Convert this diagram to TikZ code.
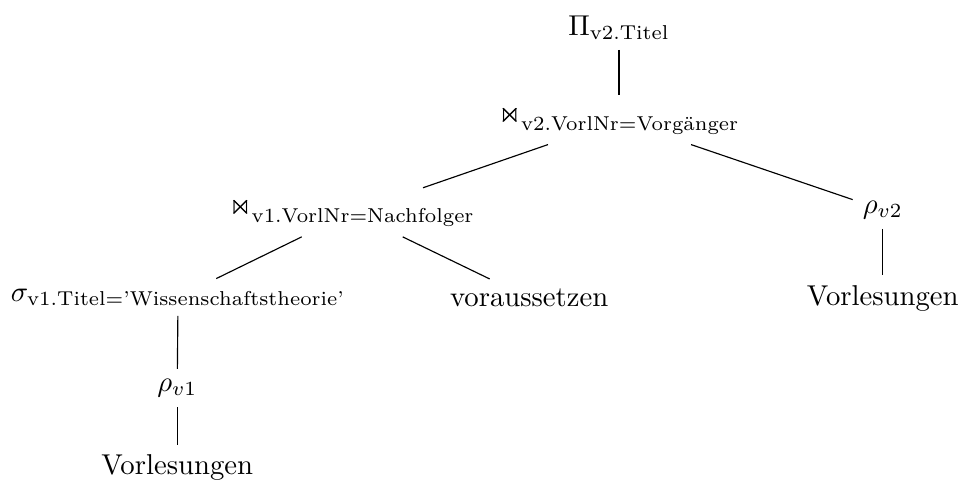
\documentclass[tikz,border=0pt]{standalone}
\usepackage{amsmath}
\usepackage{amssymb}
\usepackage{tikz}

% kleines Join-Symbol
\newcommand{\smalljoin}{\mathrel{\raisebox{0.3ex}{$\Join$}}}

\begin{document}
\begin{tikzpicture}
    \useasboundingbox (0,0) rectangle (11.78,-6.01);

    % Projektion und Joins
    \node (pi) at (7.58,-0.34) {$\Pi_{\text{v2.Titel}}$};
    \node (j1) at (7.58,-1.47) {$\smalljoin_{\text{v2.VorlNr=Vorg\"anger}}$};
    \node (j2) at (4.31,-2.60) {$\smalljoin_{\text{v1.VorlNr=Nachfolger}}$};

    % rechter Ast
    \node (rho2) at (10.81,-2.57) {$\rho_{v2}$};
    \node (vl2) at (10.81,-3.65) {Vorlesungen};

    % linker Ast
    \node (sigma) at (2.18,-3.64) {$\sigma_{\text{v1.Titel='Wissenschaftstheorie'}}$};
    \node (vor) at (6.48,-3.65) {voraussetzen};
    \node (rho1) at (2.17,-4.75) {$\rho_{v1}$};
    \node (vl1) at (2.17,-5.73) {Vorlesungen};

    % Kanten
    \draw (pi) -- (j1);
    \draw (j1) -- (j2);
    \draw (j1) -- (rho2);
    \draw (rho2) -- (vl2);
    \draw (j2) -- (sigma);
    \draw (j2) -- (vor);
    \draw (sigma) -- (rho1);
    \draw (rho1) -- (vl1);
\end{tikzpicture}
\end{document}
